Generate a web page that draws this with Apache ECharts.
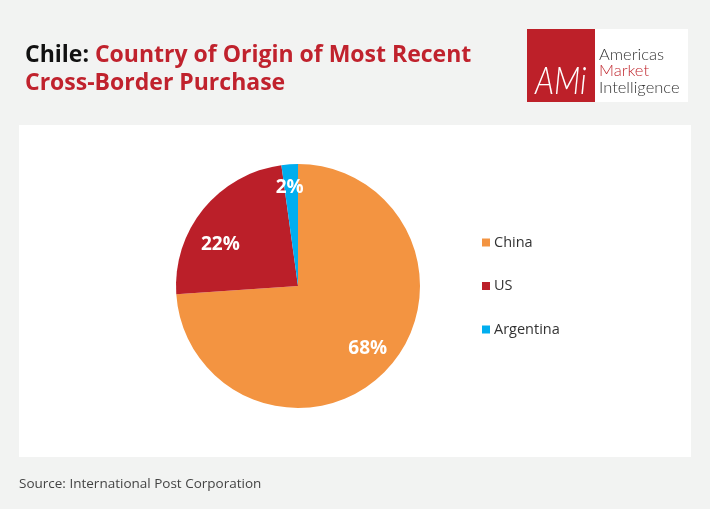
<!DOCTYPE html>
<html>
<head>
<meta charset="utf-8">
<script src="https://cdn.jsdelivr.net/npm/echarts@6/dist/echarts.min.js"></script>
<style>
html,body{margin:0;padding:0;background:#f2f3f2;}
#c{width:710px;height:509px;}
</style>
</head>
<body>
<div id="c"></div>
<script>
const categories = ['China', 'US', 'Argentina'];
const values = [68, 22, 2];
const labels = ['68%', '22%', '2%'];
const colors = ['#f39441', '#bb1f29', '#00aeef'];
const labelOffsets = [[23, 19], [-28, -1], [-4, -35]];

const chart = echarts.init(document.getElementById('c'));
const font = "'Open Sans', 'Noto Sans', sans-serif";

chart.setOption({
  backgroundColor: '#f2f3f2',
  animation: false,
  graphic: [
    { type: 'rect', z: 0, shape: { x: 19, y: 125, width: 672, height: 332 }, style: { fill: '#ffffff' } },
    { type: 'text', z: 5, left: 25, top: 44, style: {
        text: '{a|Chile: }{b|Country of Origin of Most Recent}\n{b|Cross-Border Purchase}',
        rich: {
          a: { fontFamily: font, fontWeight: 'bold', fontSize: 23, fill: '#111111', lineHeight: 28 },
          b: { fontFamily: font, fontWeight: 'bold', fontSize: 23, fill: '#c0222d', lineHeight: 28 }
        }
    } },
    { type: 'rect', z: 5, shape: { x: 527, y: 29, width: 68, height: 73 }, style: { fill: '#bd2029' } },
    { type: 'rect', z: 5, shape: { x: 595, y: 29, width: 93, height: 73 }, style: { fill: '#ffffff' } },
    { type: 'text', z: 6, x: 535, y: 101, scaleX: 0.82, style: { text: 'AMi', fontFamily: 'Lato, sans-serif', fontStyle: 'italic', fontWeight: 300, fontSize: 38, fill: '#ffffff', verticalAlign: 'bottom' } },
    { type: 'text', z: 6, left: 599, top: 46, style: { text: 'Americas', fontFamily: 'Lato, sans-serif', fontWeight: 300, fontSize: 16.5, fill: '#333333' } },
    { type: 'text', z: 6, left: 599, top: 62.5, style: { text: 'Market', fontFamily: 'Lato, sans-serif', fontWeight: 300, fontSize: 16.5, fill: '#c0282f' } },
    { type: 'text', z: 6, left: 599, top: 79, style: { text: 'Intelligence', fontFamily: 'Lato, sans-serif', fontWeight: 300, fontSize: 16.5, fill: '#333333' } },
    { type: 'text', z: 6, left: 19, top: 477, style: { text: 'Source: International Post Corporation', fontFamily: font, fontSize: 13.5, fill: '#444444' } }
  ],
  legend: {
    orient: 'vertical',
    left: 477,
    top: 230,
    itemWidth: 8,
    itemHeight: 8,
    itemGap: 28.5,
    icon: 'rect',
    data: categories,
    textStyle: { fontFamily: font, fontSize: 14.5, color: '#333333', padding: [0, 0, 0, -1] }
  },
  series: [{
    type: 'pie',
    center: [298, 286],
    radius: [0, 122],
    startAngle: 90,
    clockwise: true,
    avoidLabelOverlap: false,
    silent: true,
    label: {
      show: true,
      position: 'inside',
      fontFamily: font,
      fontWeight: 'bold',
      fontSize: 19,
      color: '#ffffff'
    },
    labelLine: { show: false },
    itemStyle: { borderWidth: 0 },
    data: categories.map((name, i) => ({
      name: name,
      value: values[i],
      itemStyle: { color: colors[i] },
      label: { formatter: labels[i], offset: labelOffsets[i] }
    }))
  }]
});
</script>
</body>
</html>
